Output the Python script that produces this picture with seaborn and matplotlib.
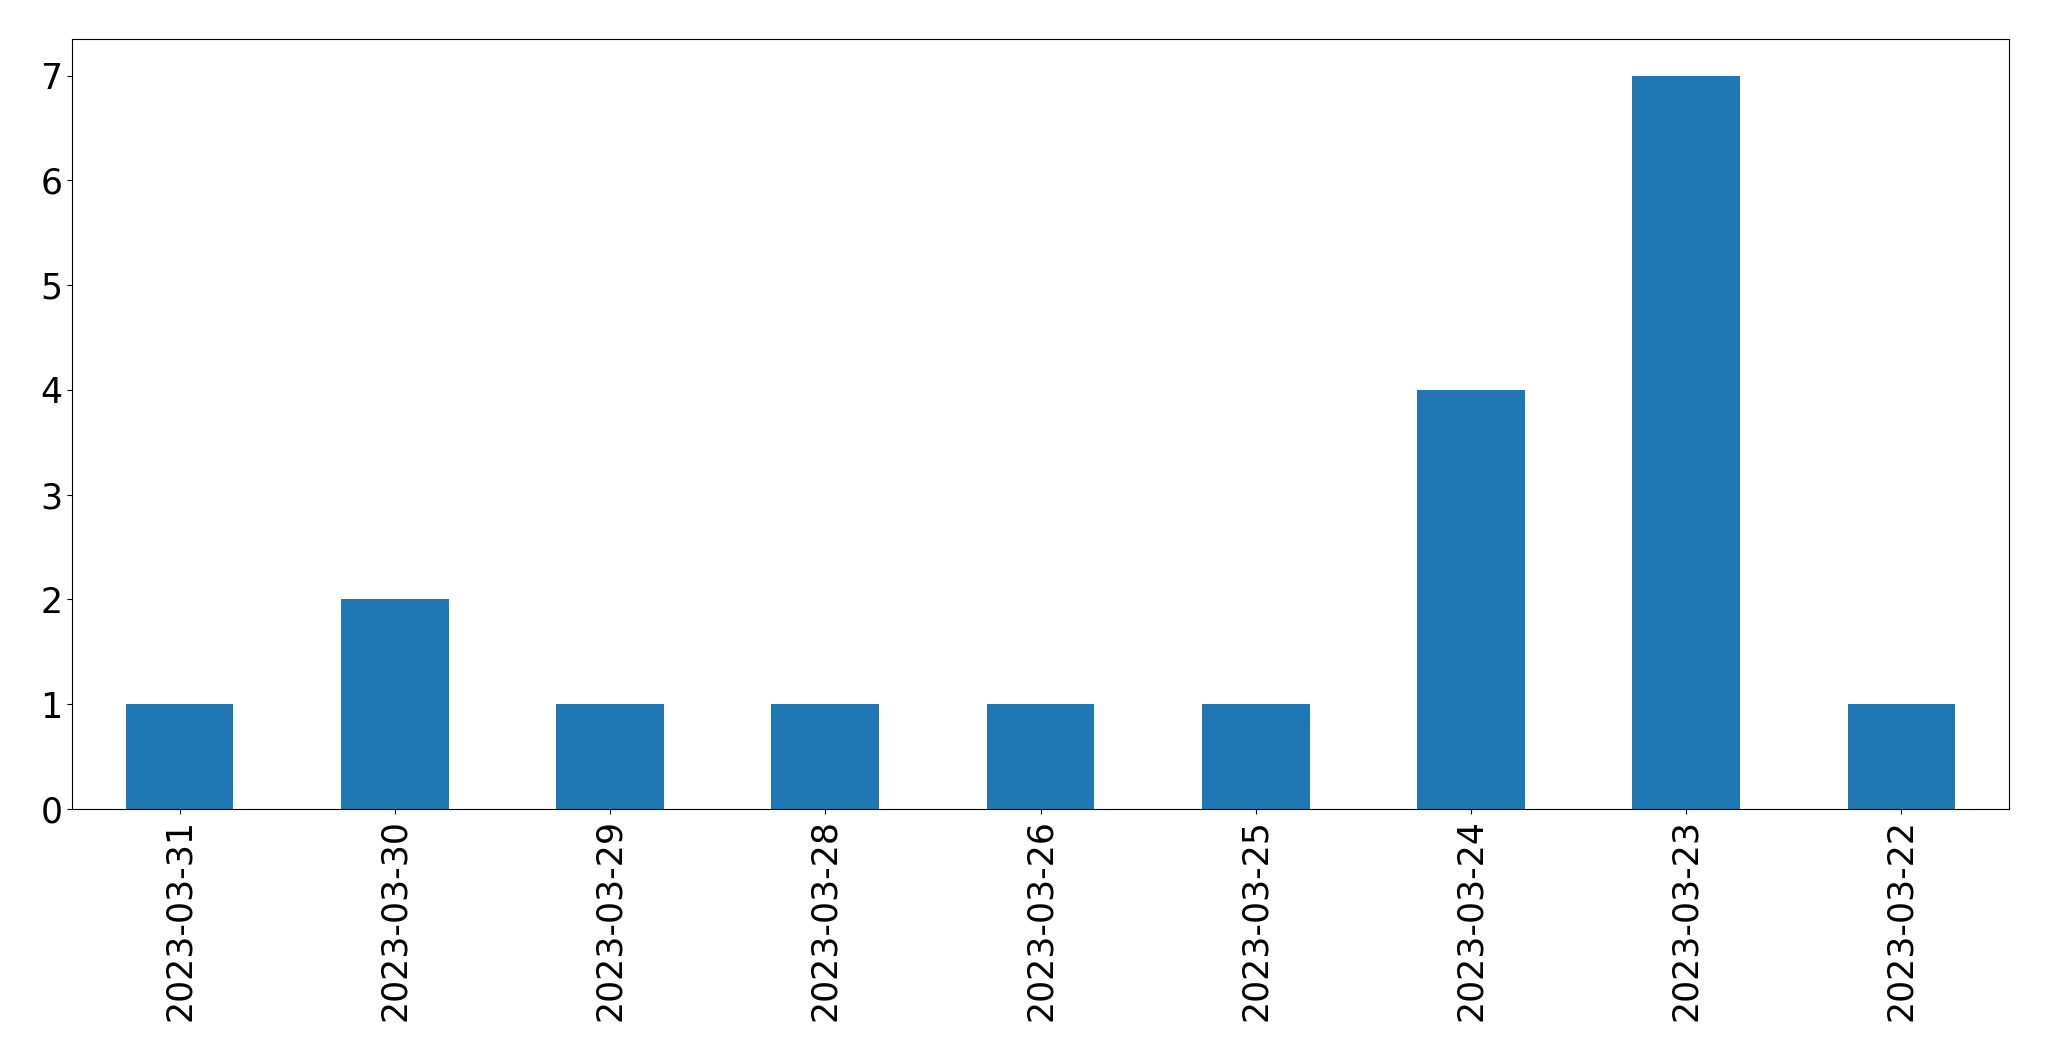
import matplotlib
matplotlib.use("Agg")
import matplotlib.pyplot as plt
import seaborn as sns
import pandas as pd

# Counts per date, in the order shown on the chart
dates = ["2023-03-31", "2023-03-30", "2023-03-29", "2023-03-28", "2023-03-26",
         "2023-03-25", "2023-03-24", "2023-03-23", "2023-03-22"]
counts = [1, 2, 1, 1, 1, 1, 4, 7, 1]

df = pd.DataFrame({"date": dates, "count": counts})

fig, ax = plt.subplots(figsize=(20.49, 10.61), dpi=100)
fig.subplots_adjust(left=72 / 2049, right=2009 / 2049, top=1 - 39 / 1061, bottom=1 - 809 / 1061)

sns.barplot(data=df, x="date", y="count", order=dates, color="#1f77b4",
            saturation=1, width=0.5, ax=ax)

ax.set_xlim(-0.5, len(dates) - 0.5)
ax.set_ylim(0, max(counts) * 1.05)
ax.set_xlabel("")
ax.set_ylabel("")
ax.tick_params(axis="both", labelsize=25)
plt.setp(ax.get_xticklabels(), rotation=90)

fig.savefig("out.png", dpi=100)
